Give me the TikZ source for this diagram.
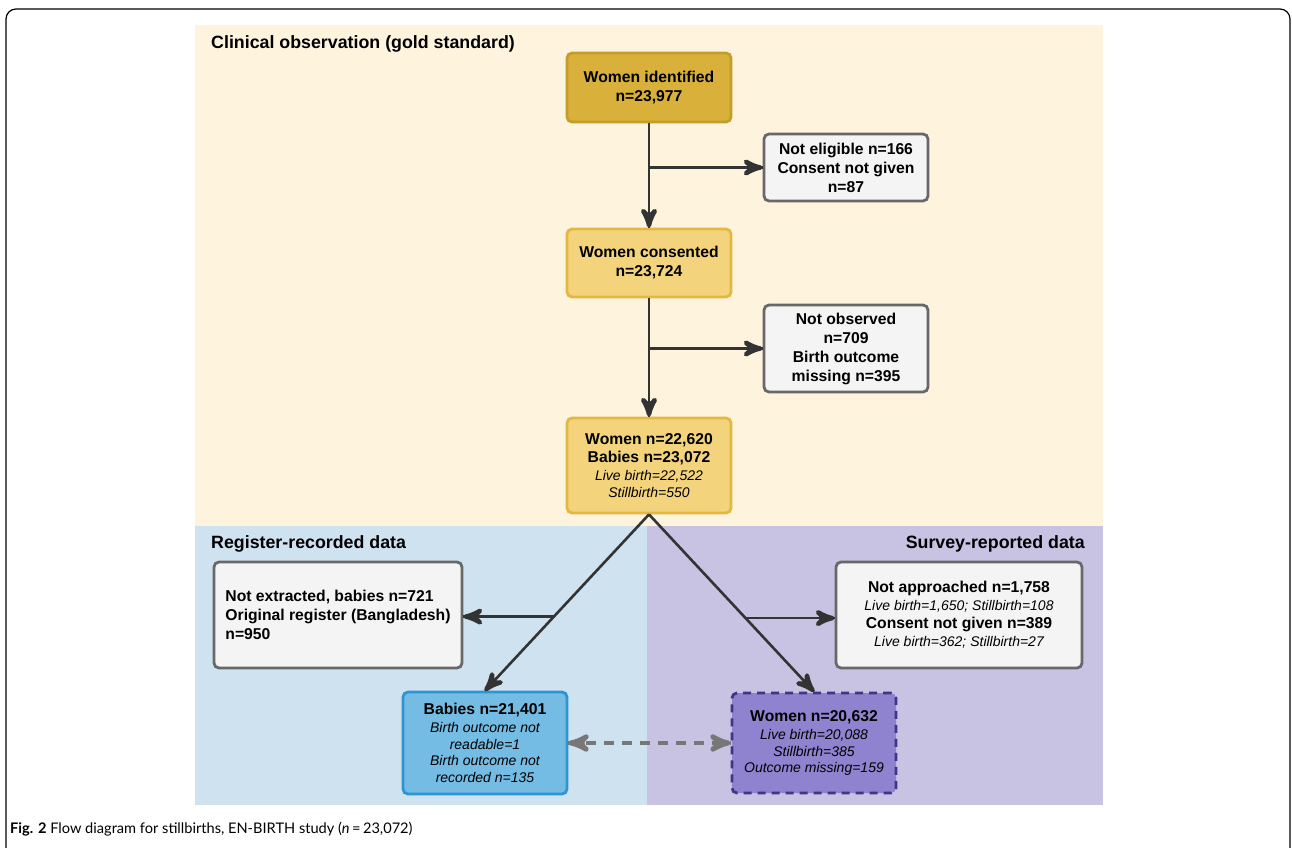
\documentclass[tikz,border=0pt]{standalone}
\usepackage{fontspec}
\setmainfont{Liberation Sans}
\newfontfamily\capfont{Lato}
\usepackage{tikz}
\usetikzlibrary{arrows}
\usetikzlibrary{calc}
\usetikzlibrary{decorations.markings}
\definecolor{bgyellow}{RGB}{254,244,222}
\definecolor{bgblue}{RGB}{207,226,240}
\definecolor{bgpurple}{RGB}{200,195,226}
\definecolor{golddark}{RGB}{217,176,58}
\definecolor{golddarkline}{RGB}{196,156,40}
\definecolor{goldlight}{RGB}{243,212,124}
\definecolor{goldlightline}{RGB}{228,184,64}
\definecolor{greyfill}{RGB}{244,244,244}
\definecolor{greyline}{RGB}{104,104,104}
\definecolor{bluefill}{RGB}{116,188,228}
\definecolor{blueline}{RGB}{46,149,211}
\definecolor{purplefill}{RGB}{143,130,206}
\definecolor{purpleline}{RGB}{63,53,137}
\definecolor{connline}{RGB}{51,51,51}
\definecolor{dashgrey}{RGB}{119,119,119}
\tikzset{flowto/.style = {decoration={markings,
                                      mark=at position 1 with {\arrow[scale=1.7]{stealth'}}},
                          postaction={decorate}}}
\tikzset{flowboth/.style = {decoration={markings,
                                        mark=at position 0 with {\arrowreversed[scale=1.5]{stealth'}},
                                        mark=at position 1 with {\arrow[scale=1.5]{stealth'}}},
                            postaction={decorate}}}
\tikzset{box/.style = {draw, rounded corners=5pt, line width=2.8pt, align=center,
                       inner sep=4pt, font=\fontsize{15.7}{16.5}\selectfont\bfseries}}
\tikzset{greybox/.style = {box, fill=greyfill, draw=greyline}}
\tikzset{conn/.style = {draw=connline, line width=2.6pt}}
\tikzset{paneltitle/.style = {font=\fontsize{17.8}{20}\selectfont\bfseries, inner sep=0pt}}
\newcommand{\detailline}[1]{{\fontsize{14}{16.5}\selectfont\mdseries\itshape #1}}

\begin{document}
\begin{tikzpicture}[x=1pt, y=-1pt]
      \useasboundingbox (0,0) rectangle (1292,847);

      % panels
      \fill [bgyellow] (195,25) rectangle (1103,526);
      \fill [bgblue] (195,526) rectangle (647,805);
      \fill [bgpurple] (647,526) rectangle (1103,805);
      \draw [line width=1.2pt, rounded corners=10pt] (6,870) -- (6,9) -- (1290,9) -- (1290,870);

      \node [paneltitle, anchor=base west] (cliniclabel) at (211,48) {Clinical observation (gold standard)};
      \node [paneltitle, anchor=base west] (registerlabel) at (211,548) {Register-recorded data};
      \node [paneltitle, anchor=base east] (surveylabel) at (1085,548) {Survey-reported data};

      % clinical observation
      \node [box, fill=golddark, draw=golddarkline, minimum width=164pt, minimum height=69pt]
            (ident) at (649,87.5) {Women identified\\[2.5pt] n=23,977};
      \node [greybox, minimum width=164pt, minimum height=67pt]
            (inelig) at (846,167.5) {Not eligible n=166\\[2.5pt] Consent not given\\[2.5pt] n=87};
      \node [box, fill=goldlight, draw=goldlightline, minimum width=164pt, minimum height=68pt]
            (consent) at (649,263) {Women consented\\[2.5pt] n=23,724};
      \node [greybox, minimum width=164pt, minimum height=87pt]
            (notobs) at (846,348.5) {Not observed\\[2.5pt] n=709\\[2.5pt] Birth outcome\\[2.5pt] missing n=395};
      \node [box, fill=goldlight, draw=goldlightline, minimum width=164pt, minimum height=95pt]
            (cohort) at (649,465.5) {Women n=22,620\\[1.5pt] Babies n=23,072\\[1.5pt]
            \detailline{Live birth=22,522}\\ \detailline{Stillbirth=550}};

      % register and survey
      \node [greybox, align=left, minimum width=248pt, minimum height=106pt]
            (notext) at (338,615) {Not extracted, babies n=721\\[2.5pt] Original register (Bangladesh)\\[2.5pt] n=950};
      \node [box, fill=bluefill, draw=blueline, minimum width=164pt, minimum height=102pt]
            (register) at (485,743) {Babies n=21,401\\[1.5pt] \detailline{Birth outcome not}\\
            \detailline{readable=1}\\ \detailline{Birth outcome not}\\ \detailline{recorded n=135}};
      \node [greybox, minimum width=246pt, minimum height=106pt]
            (notappr) at (959,615) {Not approached n=1,758\\[1.5pt] \detailline{Live birth=1,650; Stillbirth=108}\\[1.5pt]
            Consent not given n=389\\[1.5pt] \detailline{Live birth=362; Stillbirth=27}};
      \node [box, fill=purplefill, draw=purpleline, dash pattern=on 8pt off 6pt, minimum width=164pt, minimum height=100pt]
            (survey) at (814,743) {Women n=20,632\\[1.5pt] \detailline{Live birth=20,088}\\
            \detailline{Stillbirth=385}\\ \detailline{Outcome missing=159}};

      % connectors
      \draw [conn, flowto] (ident) -- (consent);
      \draw [conn, flowto] (ident.south |- inelig.west) -- (inelig.west);
      \draw [conn, flowto] (consent) -- (cohort);
      \draw [conn, flowto] (consent.south |- notobs.west) -- (notobs.west);
      \draw [conn, flowto] (cohort.south) -- (register.north);
      \draw [conn, flowto] (cohort.south) -- (survey.north);
      \coordinate (leftsplit) at ($(cohort.south)!0.58!(register.north)$);
      \coordinate (rightsplit) at ($(cohort.south)!0.585!(survey.north)$);
      \draw [conn, flowto] (leftsplit) -- (leftsplit -| notext.east);
      \draw [conn, flowto] (rightsplit) -- (rightsplit -| notappr.west);
      \draw [draw=dashgrey, line width=3.3pt, dash pattern=on 10pt off 8pt, flowboth] (register.east) -- (survey.west);

      \node [anchor=base west, inner sep=0pt, font=\capfont\fontsize{14.6}{17}\selectfont]
            (caption) at (10,833) {\textbf{Fig. 2} Flow diagram for stillbirths, EN-BIRTH study (\textit{n}\,=\,23,072)};
    \end{tikzpicture}
\end{document}
